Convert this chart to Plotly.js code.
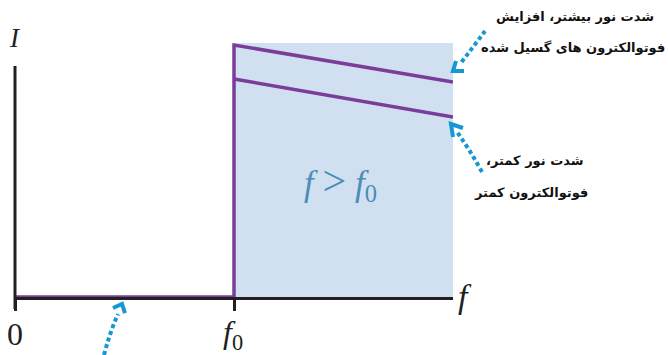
<!DOCTYPE html>
<html>
<head>
<meta charset="utf-8">
<script src="https://cdn.plot.ly/plotly-3.0.1.min.js"></script>
<style>html,body{margin:0;padding:0;background:#fff;}#chart{width:668px;height:355px;}</style>
</head>
<body>
<div id="chart"></div>
<script>
// ---- data (frequency in units of f0, intensity in arbitrary units) ----
const freqBelow = [0, 1];          // f < f0 : no current
const currentBelow = [0, 0];
const freqHigh = [1, 1, 2];        // higher light intensity
const currentHigh = [0, 10.08, 8.6];
const freqLow = [1, 2];            // lower light intensity
const currentLow = [8.72, 7.2];
const regionF = [1, 2];            // shaded region f > f0
const regionTop = 10.16;
const axisTopI = 9.24;
const tickVals = [0, 1];
const tickLabels = ['0', '<i>f</i><sub>0</sub>'];
const labelHigh = ['شدت نور بیشتر، افزایش', 'فوتوالکترون های گسیل شده'];
const labelLow = ['\u200Fشدت نور کمتر،\u200F', 'فوتوالکترون کمتر'];
const regionLabel = '<i>f</i>&nbsp;<span style="font-size:42px">&gt;</span>&nbsp;<i>f</i><sub>0</sub>';

// ---- layout helpers (pixel -> paper) ----
const M = {l: 15, r: 215, t: 40, b: 58};
const W = 668, H = 355;
const PW = W - M.l - M.r, PH = H - M.t - M.b;
const px = x => (x - M.l) / PW;
const py = y => (H - M.b - y) / PH;
const P = (x, y) => px(x).toFixed(4) + ',' + py(y).toFixed(4);

const purple = '#7a3d9a';
const arrowBlue = '#1597d3';
const serif = 'Liberation Serif, DejaVu Serif, serif';
const fa = 'DejaVu Sans, Noto Sans, sans-serif';

const traces = [
  {x: freqBelow, y: currentBelow, mode: 'lines', line: {color: purple, width: 3.5}, hoverinfo: 'skip'},
  {x: freqHigh, y: currentHigh, mode: 'lines', line: {color: purple, width: 3.5}, hoverinfo: 'skip'},
  {x: freqLow, y: currentLow, mode: 'lines', line: {color: purple, width: 3.5}, hoverinfo: 'skip'}
];

const dotLine = {color: arrowBlue, width: 4, dash: '4px,3px'};
const headLine = {color: arrowBlue, width: 4};
const shapes = [
  {type: 'rect', xref: 'x', yref: 'y', x0: regionF[0], x1: regionF[1], y0: 0, y1: regionTop,
   fillcolor: '#d0e0f1', line: {width: 0}, layer: 'below'},
  // y axis line
  {type: 'line', xref: 'paper', yref: 'paper', x0: px(15), x1: px(15), y0: py(309), y1: py(66),
   line: {color: '#231f20', width: 3}},
  // arrow to upper line
  {type: 'path', xref: 'paper', yref: 'paper', path: 'M' + P(485, 31) + ' Q' + P(474, 46) + ' ' + P(460, 64), line: dotLine},
  {type: 'path', xref: 'paper', yref: 'paper', path: 'M' + P(456, 61) + ' L' + P(453, 71) + ' L' + P(464, 71), line: headLine},
  // arrow to lower line
  {type: 'path', xref: 'paper', yref: 'paper', path: 'M' + P(482, 172) + ' Q' + P(470, 150) + ' ' + P(457, 132), line: dotLine},
  {type: 'path', xref: 'paper', yref: 'paper', path: 'M' + P(463, 128) + ' L' + P(451, 124) + ' L' + P(453, 137), line: headLine},
  // arrow to zero-current segment
  {type: 'path', xref: 'paper', yref: 'paper', path: 'M' + P(104, 355) + ' Q' + P(110, 332) + ' ' + P(118, 314), line: dotLine},
  {type: 'path', xref: 'paper', yref: 'paper', path: 'M' + P(113, 308) + ' L' + P(122, 304) + ' L' + P(125, 313), line: headLine}
];

const ann = (text, x, y, size, opts) => Object.assign({
  text: text, xref: 'paper', yref: 'paper', x: px(x), y: py(y), showarrow: false,
  font: {family: serif, size: size, color: '#231f20'}, xanchor: 'center', yanchor: 'middle'
}, opts || {});
const faOpts = {xanchor: 'right', align: 'right', font: {family: fa, size: 13, color: '#111'}};

const annotations = [
  ann('<i>I</i>', 15, 38, 27),
  ann(tickLabels[0], 15, 334, 32),
  ann(tickLabels[1], 233, 334, 32),
  ann('<i>f</i>', 465, 296, 34),
  ann(regionLabel, 340, 182, 35, {font: {family: serif, size: 35, color: '#4a8db6'}}),
  ann('<b>' + labelHigh[0] + '</b>', 656, 16, 13, faOpts),
  ann('<b>' + labelHigh[1] + '</b>', 667, 47, 13, faOpts),
  ann('<b>' + labelLow[0] + '</b>', 586, 160, 13, faOpts),
  ann('<b>' + labelLow[1] + '</b>', 590, 192, 13, faOpts)
];

const layout = {
  width: W, height: H, margin: M,
  paper_bgcolor: '#fff', plot_bgcolor: 'rgba(0,0,0,0)', showlegend: false,
  xaxis: {range: [0, 2], showgrid: false, zeroline: false, showline: true, linecolor: '#231f20', linewidth: 3,
          tickvals: tickVals, ticktext: tickLabels, showticklabels: false, ticks: 'outside', ticklen: 11,
          tickwidth: 3, tickcolor: '#231f20', fixedrange: true},
  yaxis: {range: [0, 10.28], showgrid: false, zeroline: false, showline: false, showticklabels: false,
          ticks: '', fixedrange: true},
  shapes: shapes, annotations: annotations
};

Plotly.newPlot('chart', traces, layout, {staticPlot: true, displayModeBar: false});
</script>
</body>
</html>
